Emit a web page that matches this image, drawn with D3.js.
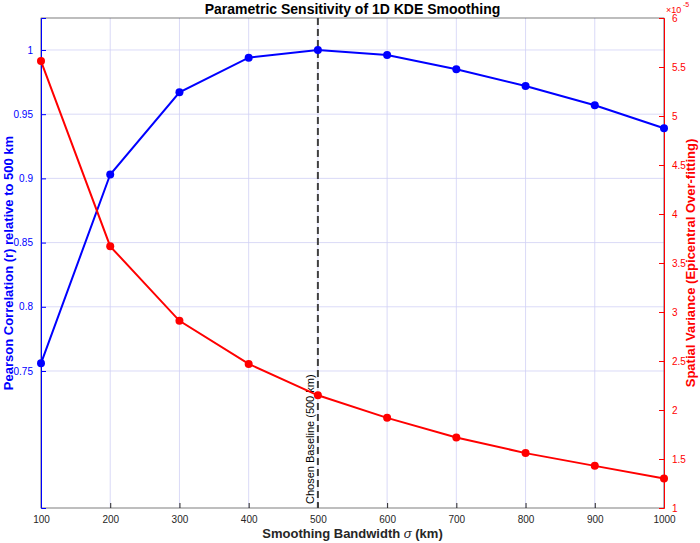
<!DOCTYPE html>
<html><head><meta charset="utf-8">
<script src="https://cdn.jsdelivr.net/npm/d3@7"></script>
<style>body{margin:0;background:#fff;font-family:Helvetica,"Liberation Sans",Arial,sans-serif}</style>
</head><body><svg id="c" width="700" height="543"></svg>
<script>
const bandwidth=[100,200,300,400,500,600,700,800,900,1000];
const pearson=[0.756,0.903,0.967,0.994,1.0,0.996,0.985,0.972,0.957,0.939];
const variance=[5.56,3.67,2.91,2.47,2.15,1.92,1.72,1.56,1.43,1.30];
const leftTicks=[0.75,0.8,0.85,0.9,0.95,1];
const rightTicks=[1,1.5,2,2.5,3,3.5,4,4.5,5,5.5,6];
const xTicks=bandwidth;
const svg=d3.select("#c");
const L=41,R=664,T=18,B=508;
const x=d3.scaleLinear().domain([100,1000]).range([L,R]);
const yl=d3.scaleLinear().domain([0.6433,1.0249]).range([B,T]);
const yr=d3.scaleLinear().domain([1,6]).range([B,T]);
const g=svg.append("g");
g.selectAll(".gx").data(xTicks).join("line").attr("x1",d=>x(d)).attr("x2",d=>x(d)).attr("y1",T).attr("y2",B).attr("stroke","#d0d0f5").attr("stroke-width",0.8);
g.selectAll(".gy").data(leftTicks).join("line").attr("y1",d=>yl(d)).attr("y2",d=>yl(d)).attr("x1",L).attr("x2",R).attr("stroke","#d0d0f5").attr("stroke-width",0.8);
svg.append("rect").attr("x",L).attr("y",T).attr("width",R-L).attr("height",B-T).attr("fill","none").attr("stroke","#262626").attr("stroke-width",0.6);
const ax=svg.append("g").attr("transform",`translate(0,${B})`).call(d3.axisBottom(x).tickValues(xTicks).tickFormat(d3.format("d")).tickSize(-5).tickPadding(8));
ax.select(".domain").remove();
ax.selectAll("text").attr("font-size",10).attr("fill","#262626");
ax.selectAll("line").attr("stroke","#262626");
const al=svg.append("g").attr("transform",`translate(${L},0)`).call(d3.axisLeft(yl).tickValues(leftTicks).tickFormat(d3.format("")).tickSize(-5).tickPadding(8));
al.select(".domain").attr("stroke","#0000ff");
al.selectAll("text").attr("font-size",10).attr("fill","#0000ff");
al.selectAll("line").attr("stroke","#0000ff");
const ar=svg.append("g").attr("transform",`translate(${R},0)`).call(d3.axisRight(yr).tickValues(rightTicks).tickFormat(d3.format("")).tickSize(-5).tickPadding(8));
ar.select(".domain").attr("stroke","#ff0000");
ar.selectAll("text").attr("font-size",10).attr("fill","#ff0000");
ar.selectAll("line").attr("stroke","#ff0000");
svg.append("text").attr("x",666).attr("y",13).attr("font-size",9).attr("fill","#ff0000").text("×10");
svg.append("text").attr("x",683).attr("y",7).attr("font-size",7).attr("fill","#ff0000").text("-5");
svg.append("line").attr("x1",x(500)).attr("x2",x(500)).attr("y1",T).attr("y2",B).attr("stroke","#404040").attr("stroke-width",2).attr("stroke-dasharray","7,4");
svg.append("text").attr("transform",`translate(${x(500)-4},${B-4}) rotate(-90)`).attr("font-size",11).attr("fill","#000").text("Chosen Baseline (500 km)");
const lb=d3.line().x((d,i)=>x(bandwidth[i])).y(d=>yl(d));
svg.append("path").datum(pearson).attr("d",lb).attr("fill","none").attr("stroke","#0000ff").attr("stroke-width",2);
svg.selectAll(".pb").data(pearson).join("circle").attr("cx",(d,i)=>x(bandwidth[i])).attr("cy",d=>yl(d)).attr("r",4).attr("fill","#0000ff");
const lr=d3.line().x((d,i)=>x(bandwidth[i])).y(d=>yr(d));
svg.append("path").datum(variance).attr("d",lr).attr("fill","none").attr("stroke","#ff0000").attr("stroke-width",2);
svg.selectAll(".pr").data(variance).join("circle").attr("cx",(d,i)=>x(bandwidth[i])).attr("cy",d=>yr(d)).attr("r",4).attr("fill","#ff0000");
svg.append("text").attr("x",(L+R)/2).attr("y",14).attr("text-anchor","middle").attr("font-size",14).attr("font-weight","bold").text("Parametric Sensitivity of 1D KDE Smoothing");
const xl=svg.append("text").attr("x",(L+R)/2).attr("y",538).attr("text-anchor","middle").attr("font-size",13).attr("font-weight","bold").attr("fill","#262626");
xl.append("tspan").text("Smoothing Bandwidth ");xl.append("tspan").attr("font-style","italic").attr("font-weight","normal").text("σ");xl.append("tspan").text(" (km)");
svg.append("text").attr("transform",`translate(13,${(T+B)/2}) rotate(-90)`).attr("text-anchor","middle").attr("font-size",13).attr("font-weight","bold").attr("fill","#0000ff").text("Pearson Correlation (r) relative to 500 km");
svg.append("text").attr("transform",`translate(695,${(T+B)/2}) rotate(-90)`).attr("text-anchor","middle").attr("font-size",13).attr("font-weight","bold").attr("fill","#ff0000").text("Spatial Variance (Epicentral Over-fitting)");
</script></body></html>
